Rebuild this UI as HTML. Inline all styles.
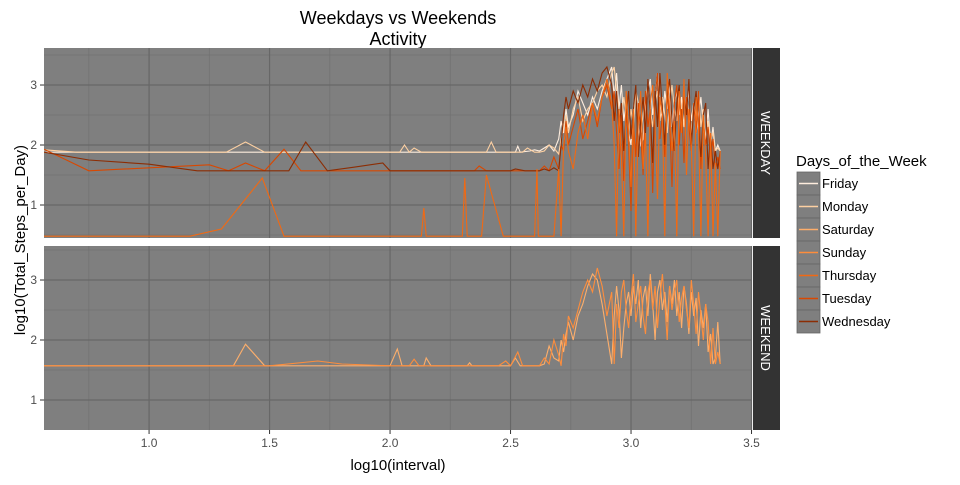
<!DOCTYPE html>
<html><head><meta charset="utf-8"><style>
body{margin:0;background:#fff;}
svg text{font-family:"Liberation Sans",Arial,sans-serif;}
</style></head><body>
<svg id="c" width="960" height="480" xmlns="http://www.w3.org/2000/svg">
<text x="398" y="24" font-size="18" text-anchor="middle" fill="#000">Weekdays vs Weekends</text>
<text x="398" y="45" font-size="18" text-anchor="middle" fill="#000">Activity</text>
<text transform="translate(25,240) rotate(-90)" font-size="15" text-anchor="middle" fill="#000">log10(Total_Steps_per_Day)</text>
<text x="398" y="470" font-size="15" text-anchor="middle" fill="#000">log10(interval)</text>
<g id="panels"></g>
<text x="796" y="166" font-size="15" fill="#000">Days_of_the_Week</text>
<g id="legend"></g>
</svg>
<script>
const xTicks=[1.0,1.5,2.0,2.5,3.0,3.5];
const xTickLabels=["1.0","1.5","2.0","2.5","3.0","3.5"];
const yTicks=[1,2,3];
const yTickLabels=["1","2","3"];
const dayNames=["Friday","Monday","Saturday","Sunday","Thursday","Tuesday","Wednesday"];
const dayColors=["#feedde","#fdd0a2","#fdae6b","#fd8d3c","#f16913","#d94801","#8c2d04"];
const activeX=[2.62,2.64,2.66,2.68,2.70,2.71,2.72,2.73,2.74,2.76,2.78,2.80,2.82,2.84,2.86,2.88,2.90,2.92,2.93,2.94,2.95,2.96,2.97,2.98,2.99,3.00,3.01,3.02,3.03,3.04,3.05,3.06,3.07,3.08,3.09,3.10,3.11,3.12,3.13,3.14,3.15,3.16,3.17,3.18,3.19,3.20,3.21,3.22,3.23,3.24,3.25,3.26,3.27,3.28,3.29,3.30,3.31,3.32,3.33,3.34,3.35,3.36,3.37];
const fridayPre=[[0.564,1.88],[2.5,1.88],[2.52,1.88],[2.53,1.98],[2.54,1.88],[2.58,1.9],[2.6,1.92]];
const fridayY=[1.9,1.95,2.0,1.9,2.1,2.4,2.2,2.6,2.3,2.5,2.9,2.7,2.5,2.8,2.6,2.9,3.1,3.3,2.8,3.2,2.6,3.0,2.4,2.7,2.2,2.0,2.6,2.9,2.3,2.0,2.1,2.6,2.9,3.1,2.5,2.8,3.2,2.7,2.4,2.9,2.6,3.0,2.3,2.7,2.9,2.5,2.8,2.3,2.6,2.9,2.4,2.7,2.2,2.5,2.8,2.3,2.1,2.6,2.0,2.3,1.9,2.0,1.9];
const mondayPre=[[0.564,1.92],[0.7,1.88],[1.32,1.88],[1.4,2.05],[1.48,1.88],[2.04,1.88],[2.06,2.0],[2.08,1.88],[2.1,1.95],[2.13,1.88],[2.4,1.88],[2.42,2.05],[2.44,1.88],[2.55,1.88],[2.57,1.95],[2.6,1.88]];
const mondayY=[1.88,1.9,2.0,1.95,1.85,2.1,2.3,2.5,2.2,2.6,2.8,2.4,2.6,2.7,2.9,3.0,2.8,3.2,3.3,2.9,2.6,2.4,2.8,2.5,2.2,2.6,2.3,2.9,2.7,2.2,2.5,2.8,3.0,2.6,2.3,2.7,2.9,2.4,2.8,2.5,2.2,2.7,3.0,2.6,2.4,2.9,2.6,2.3,2.8,2.5,2.2,2.7,2.4,2.9,2.3,2.6,2.0,2.4,2.1,2.2,1.9,1.95,1.9];
const tuesdayPre=[[0.564,1.93],[0.75,1.57],[1.25,1.67],[1.33,1.57],[1.4,1.7],[1.48,1.57],[1.56,1.93],[1.63,1.57],[2.35,1.57],[2.37,1.65],[2.4,1.57],[2.6,1.57]];
const tuesdayY=[1.57,1.65,1.57,1.8,1.6,2.0,1.9,2.4,2.0,2.3,2.6,2.1,2.4,2.7,2.3,2.8,3.0,2.6,2.9,2.2,1.6,2.5,1.4,2.6,2.0,0.9,2.4,1.8,2.7,2.2,1.5,2.9,2.3,2.6,1.2,2.8,3.2,2.1,2.5,1.8,2.9,2.4,1.3,2.7,3.0,2.0,2.6,1.7,2.8,2.3,1.9,2.7,2.2,2.9,1.6,2.4,2.0,2.3,1.8,2.1,1.6,1.8,1.6];
const thursdayPre=[[0.564,0.48],[1.17,0.48],[1.3,0.6],[1.40,1.1],[1.47,1.45],[1.56,0.48],[2.13,0.48],[2.14,0.95],[2.15,0.48],[2.3,0.48],[2.31,1.45],[2.32,0.48],[2.38,0.48],[2.40,1.5],[2.47,0.48],[2.6,0.48],[2.61,1.6],[2.615,0.48]];
const thursdayY=[0.48,0.48,0.48,0.48,1.6,0.48,2.0,2.3,1.9,1.6,2.2,2.5,2.1,2.7,2.4,2.8,3.1,2.7,2.0,0.48,2.6,1.8,0.48,2.9,2.2,1.3,2.6,0.48,2.4,2.9,1.6,2.2,0.48,2.7,3.0,2.3,1.1,2.8,2.5,0.48,3.2,2.6,1.9,2.4,0.48,2.9,2.2,3.1,1.5,2.6,2.0,0.48,2.8,2.3,0.48,2.5,1.8,0.48,2.2,0.48,1.7,0.48,1.9];
const wednesdayPre=[[0.564,1.88],[0.75,1.75],[1.0,1.68],[1.2,1.57],[1.5,1.57],[1.58,1.57],[1.65,2.05],[1.74,1.57],[1.85,1.63],[1.97,1.7],[2.0,1.57],[2.5,1.57],[2.52,1.6],[2.56,1.57],[2.6,1.57]];
const wednesdayY=[1.57,1.6,1.57,1.62,1.57,2.0,2.5,2.8,2.6,2.9,2.7,3.0,2.8,3.1,2.9,3.2,3.3,3.0,2.4,2.9,2.2,2.7,1.9,2.5,2.9,2.1,2.6,3.0,1.8,2.4,2.8,2.2,3.1,2.5,1.7,2.9,2.3,3.2,2.6,2.0,2.8,3.1,2.4,1.9,2.7,3.0,2.2,2.8,2.5,3.1,2.0,2.6,2.9,2.3,1.8,2.5,2.7,1.6,2.2,1.6,1.9,1.6,1.9];
const saturdayPre=[[0.564,1.57],[1.35,1.57],[1.4,1.93],[1.48,1.57],[2.0,1.57],[2.03,1.85],[2.05,1.57],[2.14,1.57],[2.15,1.7],[2.17,1.57],[2.32,1.57],[2.33,1.62],[2.34,1.57],[2.5,1.57],[2.52,1.7],[2.54,1.57],[2.6,1.57]];
const saturdayY=[1.57,1.6,1.9,1.7,1.65,2.0,1.8,2.1,2.3,2.0,2.4,2.6,2.9,3.1,3.0,2.6,2.1,1.6,2.4,2.9,2.5,1.7,2.2,2.6,2.8,2.4,2.9,2.6,3.0,2.2,2.7,2.9,2.4,3.1,2.6,2.0,2.8,3.0,2.5,2.8,2.3,2.9,2.6,3.0,2.4,2.8,2.2,2.9,2.6,2.1,2.8,2.4,2.7,1.9,2.5,2.2,2.6,1.8,2.1,1.6,1.7,2.3,1.6];
const sundayPre=[[0.564,1.57],[1.5,1.57],[1.7,1.65],[1.8,1.6],[2.0,1.57],[2.08,1.57],[2.1,1.68],[2.12,1.57],[2.45,1.57],[2.48,1.65],[2.5,1.57],[2.53,1.8],[2.55,1.57],[2.6,1.57]];
const sundayY=[1.57,1.7,1.6,2.0,1.75,1.57,2.1,1.9,2.4,2.2,2.5,2.8,3.0,2.8,3.2,2.9,2.4,2.8,1.6,2.6,2.2,2.8,3.0,2.5,2.2,2.7,3.1,2.3,2.6,2.9,2.4,2.1,2.8,3.0,2.5,2.9,2.2,2.7,3.1,2.6,2.0,2.9,2.5,2.8,3.0,2.3,2.7,2.9,2.5,2.2,3.0,2.6,2.1,2.8,2.4,2.0,2.6,2.3,1.6,2.2,1.6,1.8,1.6];

const NS="http://www.w3.org/2000/svg";
const G=document.getElementById('panels');
function mk(t,a,p){const e=document.createElementNS(NS,t);for(const k in a)e.setAttribute(k,a[k]);(p||G).appendChild(e);return e;}
const PL=44,PR=752;
const xMin=0.564,xMax=3.502;
const sx=v=>PL+(v-xMin)/(xMax-xMin)*(PR-PL);
function build(pre,ys){const pts=pre.slice();const n=Math.min(ys.length,activeX.length);for(let i=0;i<n;i++)pts.push([activeX[i],ys[i]]);return pts;}
const panels=[
 {name:"weekday",label:"WEEKDAY",top:48,bot:238,range:[0.45,3.617],series:[
   ["Friday",build(fridayPre,fridayY)],["Monday",build(mondayPre,mondayY)],["Tuesday",build(tuesdayPre,tuesdayY)],
   ["Wednesday",build(wednesdayPre,wednesdayY)],["Thursday",build(thursdayPre,thursdayY)]]},
 {name:"weekend",label:"WEEKEND",top:246,bot:430,range:[0.5,3.567],series:[["Saturday",build(saturdayPre,saturdayY)],["Sunday",build(sundayPre,sundayY)]]}
];
panels.forEach((p,pi)=>{
  const ph=(p.bot-p.top);
  const range=p.range;
  const sy=v=>p.bot-(v-range[0])/(range[1]-range[0])*ph;
  const g=mk('g',{});
  
  
  const bg=mk('rect',{x:PL,y:p.top,width:PR-PL,height:ph,fill:'#7f7f7f'},g);
  
  
  for(let i=0;i<xTicks.length;i++){const m=xTicks[i]-0.25;if(m>xMin){const l=mk('line',{x1:sx(m),x2:sx(m),y1:p.top,y2:p.bot,stroke:'#727272','stroke-width':0.8},g);}}
  [0.5,1.5,2.5,3.5].forEach(m=>{const yy=sy(m);if(yy>p.top&&yy<p.bot){const l=mk('line',{x1:PL,x2:PR,y1:yy,y2:yy,stroke:'#727272','stroke-width':0.8},g);}});
  xTicks.forEach((t,i)=>{const l=mk('line',{x1:sx(t),x2:sx(t),y1:p.top,y2:p.bot,stroke:'#676767','stroke-width':1.2},g);});
  yTicks.forEach((t,i)=>{const yy=sy(t);const l=mk('line',{x1:PL,x2:PR,y1:yy,y2:yy,stroke:'#676767','stroke-width':1.2},g);
    const tk=mk('line',{x1:40,x2:44,y1:yy,y2:yy,stroke:'#333'},g);
    const tx=mk('text',{x:37,y:yy+4,'font-size':12,'text-anchor':'end',fill:'#4d4d4d'},g);tx.textContent=yTickLabels[i];});
  const clip=mk('clipPath',{id:'clip'+pi},g);mk('rect',{x:PL,y:p.top,width:PR-PL,height:ph},clip);
  const sg=mk('g',{'clip-path':'url(#clip'+pi+')'},g);
  p.series.forEach(([nm,pts])=>{
    const c=dayColors[dayNames.indexOf(nm)];
    const d=pts.map((q,j)=>(j?'L':'M')+sx(q[0]).toFixed(1)+','+sy(q[1]).toFixed(1)).join('');
    const pa=mk('path',{d:d,fill:'none',stroke:c,'stroke-width':1.1},sg);
    
    
  });
  const st=mk('rect',{x:753,y:p.top,width:27,height:ph,fill:'#333333'},g);
  
  
  const cy=(p.top+p.bot)/2;
  const stt=mk('text',{transform:'translate(761,'+cy+') rotate(90)','font-size':13,'text-anchor':'middle',fill:'#fff'},g);
  stt.textContent=p.label;
  
  
});
xTicks.forEach((t,i)=>{const tk=mk('line',{x1:sx(t),x2:sx(t),y1:430,y2:434,stroke:'#333'});
  const tx=mk('text',{x:sx(t),y:447,'font-size':12,'text-anchor':'middle',fill:'#4d4d4d'});tx.textContent=xTickLabels[i];});
const L=document.getElementById('legend');
dayNames.forEach((nm,i)=>{
  const y0=172+i*23;
  const g=mk('g',{},L);
  
  
  mk('rect',{x:797,y:y0,width:23,height:23,fill:'#7f7f7f',stroke:'#666','stroke-width':0.8},g);
  mk('line',{x1:799,x2:818,y1:y0+11.5,y2:y0+11.5,stroke:dayColors[i],'stroke-width':1.5},g);
  const t=mk('text',{x:822,y:y0+16,'font-size':13,fill:'#000'},g);t.textContent=nm;
});
</script>
</body></html>
